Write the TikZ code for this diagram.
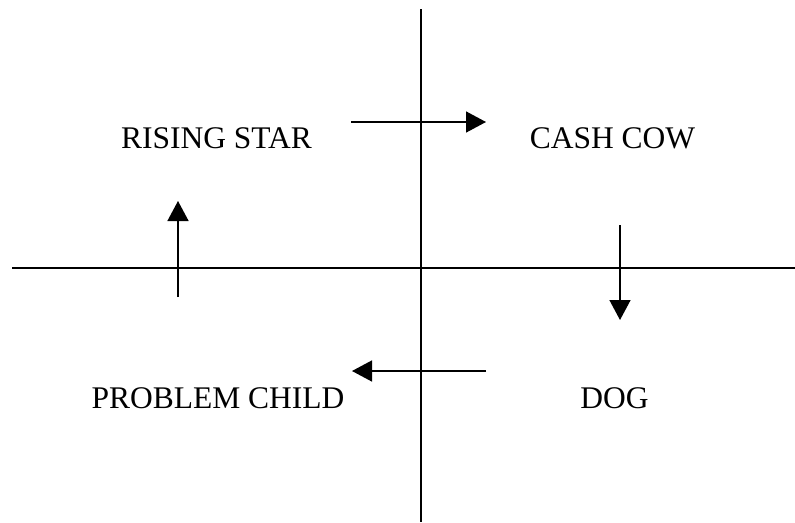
\documentclass[tikz,border=0pt]{standalone}
\usepackage{fontspec}
\setmainfont{Liberation Serif}
\usetikzlibrary{arrows.meta}
\begin{document}
\begin{tikzpicture}[x=1pt,y=-1pt,
  axis/.style={line width=2pt},
  movearrow/.style={line width=1.5pt,-{Triangle[length=20pt,width=21pt]}},
  label/.style={anchor=base,inner sep=0pt,font=\fontsize{31.5}{36}\selectfont}]
\useasboundingbox (0,0) rectangle (795,522);
% axes
\coordinate (vtop) at (421,9);
\coordinate (vbot) at (421,522);
\coordinate (hleft) at (12,268);
\coordinate (hright) at (795,268);
\draw[axis] (vtop) -- (vbot);
\draw[axis] (hleft) -- (hright);
% labels
\node[label] (star) at (216.5,148) {RISING STAR};
\node[label] (cow) at (612.5,148) {CASH COW};
\node[label] (problem) at (218,408) {PROBLEM CHILD};
\node[label] (dog) at (614.5,408) {DOG};
% arrows
\coordinate (a1s) at (351,122);
\coordinate (a1e) at (486,122);
\coordinate (a2s) at (620,225);
\coordinate (a2e) at (620,320);
\coordinate (a3s) at (486,371);
\coordinate (a3e) at (352,371);
\coordinate (a4s) at (178,297);
\coordinate (a4e) at (178,201);
\draw[movearrow] (a1s) -- (a1e);
\draw[movearrow] (a2s) -- (a2e);
\draw[movearrow] (a3s) -- (a3e);
\draw[movearrow] (a4s) -- (a4e);
\end{tikzpicture}
\end{document}
